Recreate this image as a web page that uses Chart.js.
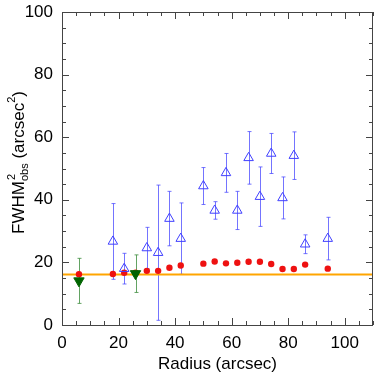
<!DOCTYPE html>
<html>
<head>
<meta charset="utf-8">
<script src="https://cdn.jsdelivr.net/npm/chart.js@4/dist/chart.umd.min.js"></script>
<style>
  html, body { margin: 0; padding: 0; background: #fff; overflow: hidden; }
  #wrap { width: 374px; height: 375px; }
</style>
</head>
<body>
<div id="wrap"><canvas id="fwhmChart"></canvas></div>
<script>
// observed FWHM^2 vs radius
const radiusBlue = [18, 22, 30, 34, 38, 42, 50, 54, 58, 62, 66, 70, 74, 78, 82, 86, 94];
const fwhmBlue = [26.7, 18.0, 24.6, 23.1, 34.0, 27.6, 44.4, 36.6, 48.6, 36.6, 53.4, 41.0, 54.8, 40.6, 54.1, 25.8, 27.6];
const errBlue = [12.1, 4.9, 6.6, 21.6, 8.7, 11.4, 5.9, 2.8, 6.2, 6.1, 8.4, 9.5, 6.4, 6.7, 7.6, 3.0, 6.8];

const radiusRed = [6, 18, 22, 26, 30, 34, 38, 42, 50, 54, 58, 62, 66, 70, 74, 78, 82, 86, 94];
const fwhmRed = [16.2, 16.3, 16.7, 16.7, 17.3, 17.3, 18.3, 19.0, 19.6, 20.3, 19.7, 19.9, 20.2, 20.2, 19.5, 17.9, 17.9, 19.3, 18.0];

const radiusGreen = [6, 26];
const fwhmGreen = [14.1, 16.4];
const errGreen = [7.2, 6.0];

const seeingLevel = 16.1;
const xRange = [0, 110];
const yRange = [0, 100];
const xTicks = [0, 20, 40, 60, 80, 100];
const yTicks = [0, 20, 40, 60, 80, 100];

const FONT = "'Liberation Sans', Arial, Helvetica, sans-serif";

const toPoints = (xs, ys, errs) => xs.map((x, i) => ({ x: x, y: ys[i], err: errs ? errs[i] : 0 }));

// error bars drawn under the markers
const errorBars = {
  id: "errorBars",
  beforeDatasetsDraw(chart) {
    const { ctx, scales: { x, y } } = chart;
    chart.data.datasets.forEach((ds, i) => {
      if (!ds.errColor || !chart.isDatasetVisible(i)) return;
      ctx.save();
      ctx.strokeStyle = ds.errColor;
      ctx.lineWidth = 1;
      ds.data.forEach(p => {
        const px = Math.round(x.getPixelForValue(p.x)) + 0.5;
        const top = y.getPixelForValue(p.y + p.err);
        const bot = y.getPixelForValue(p.y - p.err);
        ctx.beginPath();
        ctx.moveTo(px, top); ctx.lineTo(px, bot);
        ctx.moveTo(px - 2, top); ctx.lineTo(px + 2, top);
        ctx.moveTo(px - 2, bot); ctx.lineTo(px + 2, bot);
        ctx.stroke();
      });
      ctx.restore();
    });
  }
};

// box frame, inward ticks and the y title with sub/superscripts
const frame = {
  id: "frame",
  afterDraw(chart) {
    const { ctx, chartArea: a, scales: { x, y } } = chart;
    ctx.save();
    ctx.strokeStyle = "#444";
    ctx.lineWidth = 1;
    ctx.strokeRect(a.left + 0.5, a.top + 0.5, a.right - a.left - 1, a.bottom - a.top);
    ctx.beginPath();
    for (let v = xRange[0]; v <= xRange[1]; v += 5) {
      const px = Math.round(x.getPixelForValue(v)) + 0.5;
      const len = v % 20 === 0 ? 7 : 4;
      ctx.moveTo(px, a.bottom); ctx.lineTo(px, a.bottom - len);
      ctx.moveTo(px, a.top); ctx.lineTo(px, a.top + len);
    }
    for (let v = yRange[0]; v <= yRange[1]; v += 5) {
      const py = Math.round(y.getPixelForValue(v)) + 0.5;
      const len = v % 20 === 0 ? 7 : 4;
      ctx.moveTo(a.left, py); ctx.lineTo(a.left + len, py);
      ctx.moveTo(a.right, py); ctx.lineTo(a.right - len, py);
    }
    ctx.stroke();

    // y title
    const cy = (a.top + a.bottom) / 2 - 6;
    ctx.translate(19, cy);
    ctx.rotate(-Math.PI / 2);
    ctx.fillStyle = "#000";
    ctx.textBaseline = "middle";
    ctx.textAlign = "left";
    ctx.font = "17px " + FONT;
    const w1 = ctx.measureText("FWHM").width;
    const w2 = ctx.measureText(" (arcsec").width;
    const w3 = ctx.measureText(")").width;
    ctx.font = "11px " + FONT;
    const wSub = ctx.measureText("obs").width;
    const wS = ctx.measureText("2").width;
    const total = w1 + wSub + w2 + wS + w3;
    let cx = -total / 2;
    ctx.font = "17px " + FONT;
    ctx.fillText("FWHM", cx, 0); cx += w1;
    ctx.font = "11px " + FONT;
    ctx.fillText("2", cx + 1, -7);
    ctx.fillText("obs", cx, 6); cx += wSub;
    ctx.font = "17px " + FONT;
    ctx.fillText(" (arcsec", cx, 0); cx += w2;
    ctx.font = "11px " + FONT;
    ctx.fillText("2", cx, -7); cx += wS;
    ctx.font = "17px " + FONT;
    ctx.fillText(")", cx, 0);
    ctx.restore();
  }
};

new Chart(document.getElementById("fwhmChart"), {
  type: "scatter",
  data: {
    datasets: [
      {
        label: "seeing",
        type: "line",
        data: [{ x: xRange[0], y: seeingLevel }, { x: xRange[1], y: seeingLevel }],
        borderColor: "#ffa500",
        borderWidth: 2,
        pointRadius: 0,
        order: 4
      },
      {
        label: "blue",
        data: toPoints(radiusBlue, fwhmBlue, errBlue),
        errColor: "rgba(70,70,255,0.75)",
        pointStyle: "triangle",
        pointRadius: 5.5,
        backgroundColor: "rgba(255,255,255,0)",
        borderColor: "#4040ff",
        borderWidth: 1,
        order: 1
      },
      {
        label: "red",
        data: toPoints(radiusRed, fwhmRed),
        pointStyle: "circle",
        pointRadius: 3.2,
        backgroundColor: "#ee1111",
        borderColor: "#ee1111",
        borderWidth: 0,
        order: 2
      },
      {
        label: "green",
        data: toPoints(radiusGreen, fwhmGreen, errGreen),
        errColor: "rgba(60,140,60,0.8)",
        pointStyle: "triangle",
        rotation: 180,
        pointRadius: 6,
        backgroundColor: "#006400",
        borderColor: "#006400",
        borderWidth: 1,
        order: 0
      }
    ]
  },
  options: {
    responsive: true,
    maintainAspectRatio: false,
    animation: false,
    layout: { autoPadding: false, padding: { top: 12, right: 1, left: 0, bottom: 0 } },
    plugins: { legend: { display: false }, tooltip: { enabled: false } },
    scales: {
      x: {
        type: "linear",
        min: xRange[0],
        max: xRange[1],
        grid: { display: false, drawTicks: false },
        border: { display: false },
        afterBuildTicks: s => { s.ticks = xTicks.map(v => ({ value: v })); },
        afterFit: s => { s.height = 50; s.paddingLeft = 0; s.paddingRight = 0; },
        ticks: { color: "#000", padding: 8, maxRotation: 0, font: { family: FONT, size: 17 } },
        title: { display: true, text: "Radius (arcsec)", color: "#000", padding: { top: 0, bottom: 0 }, font: { family: FONT, size: 17 } }
      },
      y: {
        type: "linear",
        min: yRange[0],
        max: yRange[1],
        grid: { display: false, drawTicks: false },
        border: { display: false },
        afterBuildTicks: s => { s.ticks = yTicks.map(v => ({ value: v })); },
        afterFit: s => { s.width = 62; s.paddingTop = 0; s.paddingBottom = 0; },
        ticks: { color: "#000", padding: 9, font: { family: FONT, size: 17 } }
      }
    }
  },
  plugins: [errorBars, frame]
});
</script>
</body>
</html>
